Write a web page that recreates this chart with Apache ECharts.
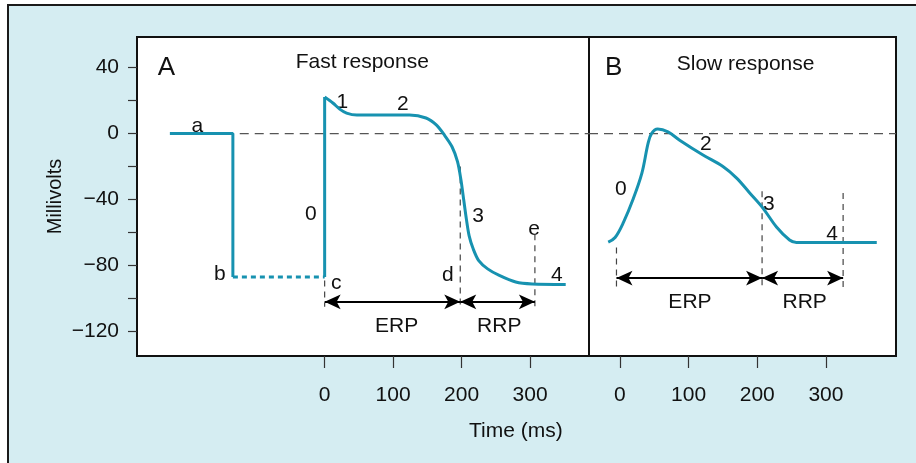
<!DOCTYPE html>
<html>
<head>
<meta charset="utf-8">
<script src="https://cdn.jsdelivr.net/npm/echarts@6/dist/echarts.min.js"></script>
<style>
  html, body { margin: 0; padding: 0; background: #fff; overflow: hidden; }
  #frame { position: absolute; left: 7px; top: 4px; width: 930px; height: 480px;
           border: 2px solid #1a1a1a; background: #d5edf2; }
  #chart { position: absolute; left: 0; top: 0; width: 916px; height: 463px; }
</style>
</head>
<body>
<div id="frame"></div>
<div id="chart"></div>
<script>
// time in ms, potential in mV
const fastResting = [[-226, 0], [-134, 0], [-134, -87]];
const fastDotted = [[-134, -87], [0, -87]];
const fastUpstroke = [[0, -87], [0, 22.1]];
const fastCurve = [
    [0, 22.1], [12, 18.5], [22, 14.8], [32, 12.4], [47, 11.2], [84, 11.2], [124, 11.2],
    [148, 9.4], [163, 5.2], [175, -1], [186, -8], [194, -17], [199, -28],
    [203, -40], [207, -52], [211, -62], [217, -70], [225, -77],
    [238, -82], [255, -86], [279, -90], [303, -91.2], [352, -91.5]
];
const slowCurve = [
    [-17, -65.8], [-7, -63], [5, -54], [19, -40], [32, -24], [41, -6], [46, 0],
    [55, 2.7], [70, 1], [87, -4], [121, -13], [150, -20], [170, -27], [189, -36],
    [208, -45], [228, -56.6], [247, -64.5], [257, -66], [374, -66]
];
const zeroLineA = [[-124, 0], [386, 0]];
const zeroLineB = [[-45, 0], [402, 0]];
// vertical dashed markers: [time, top, bottom]
const markersA = [[0, -89, -105], [198, -20, -105], [307, -61, -105]];
const markersB = [[-5, -69, -93.5], [207, -35, -93.5], [325, -36, -93.5]];
// arrows: [from, to, level]
const arrowsA = [[0, 198, -102], [198, 307, -102]];
const arrowsB = [[-5, 207, -87.6], [207, 325, -87.6]];
// annotations: [time, mV, text]
const notesA = [
    [-186, 4.5, 'a'], [-153, -85, 'b'], [17, -90.6, 'c'], [180, -86, 'd'],
    [-20, -49, '0'], [26, 19, '1'], [114, 18, '2'], [224, -50, '3'],
    [306, -58, 'e'], [339, -86, '4'], [105, -116.6, 'ERP'], [255, -116.6, 'RRP'],
    [55, 43, 'Fast response']
];
const notesB = [
    [1.5, -33.6, '0'], [125, -6.4, '2'], [217, -43, '3'], [309, -61, '4'],
    [102, -102, 'ERP'], [269, -102, 'RRP'], [183, 42, 'Slow response']
];
const panelTags = [[-231, 39.7, 'A', 0], [-9, 39.7, 'B', 1]];
const xTicks = [0, 100, 200, 300];
const yTicks = [-120, -100, -80, -60, -40, -20, 0, 20, 40];
const yLabels = [-120, -80, -40, 0, 40];

const teal = '#1792b0';
const ink = '#111';
const font = "'Liberation Sans', Arial, sans-serif";
const fs = 21;

const chart = echarts.init(document.getElementById('chart'), null, { renderer: 'canvas' });

const xAxisBase = (gridIndex, min, max) => ({
    type: 'value', gridIndex, min, max,
    axisLine: { show: false, onZero: false },
    splitLine: { show: false },
    axisTick: { show: true, length: 12, customValues: xTicks, lineStyle: { color: '#333', width: 1.2 } },
    axisLabel: { customValues: xTicks, margin: 29, fontSize: fs, color: ink, fontFamily: font }
});

const plotLine = (data, idx, extra) => Object.assign({
    type: 'line', data, xAxisIndex: idx, yAxisIndex: idx,
    symbol: 'none', silent: true,
    lineStyle: { color: teal, width: 3 }
}, extra || {});

const markerSeries = (list, idx) => list.map(m => ({
    type: 'line', xAxisIndex: idx, yAxisIndex: idx, symbol: 'none', silent: true,
    data: [[m[0], m[1]], [m[0], m[2]]],
    lineStyle: { color: '#444', width: 1.2, type: [6, 5] }
}));

const arrowSeries = (list, idx) => ({
    type: 'line', xAxisIndex: idx, yAxisIndex: idx, data: [], silent: true,
    markLine: {
        silent: true, animation: false,
        symbol: ['arrow', 'arrow'], symbolSize: [11, 16],
        label: { show: false },
        lineStyle: { color: '#000', width: 2, type: 'solid' },
        data: list.map(a => [{ coord: [a[0], a[2]] }, { coord: [a[1], a[2]] }])
    }
});

const noteSeries = (list, idx, size) => ({
    type: 'scatter', xAxisIndex: idx, yAxisIndex: idx, symbolSize: 0, silent: true,
    data: list,
    itemStyle: { opacity: 1 },
    label: {
        show: true, position: 'inside', formatter: p => p.data[2],
        fontSize: size, color: ink, fontFamily: font, opacity: 1
    }
});

chart.setOption({
    animation: false,
    grid: [
        { left: 137, top: 37, width: 452, height: 319, show: true, backgroundColor: '#fff', borderColor: '#111', borderWidth: 2 },
        { left: 589, top: 37, width: 307, height: 319, show: true, backgroundColor: '#fff', borderColor: '#111', borderWidth: 2 }
    ],
    xAxis: [xAxisBase(0, -274, 386), xAxisBase(1, -45, 402)],
    yAxis: [
        {
            type: 'value', gridIndex: 0, min: -134.8, max: 58.5,
            axisLine: { show: false, onZero: false }, splitLine: { show: false },
            axisTick: { show: true, length: 9, customValues: yTicks, lineStyle: { color: '#333', width: 1.2 } },
            axisLabel: {
                customValues: yLabels, margin: 18, fontSize: fs, color: ink, fontFamily: font,
                formatter: v => String(v).replace('-', '\u2212')
            },
            name: 'Millivolts', nameLocation: 'middle', nameRotate: 90, nameGap: 72,
            nameTextStyle: { fontSize: 20, color: ink, fontFamily: font }
        },
        { type: 'value', gridIndex: 1, min: -134.8, max: 58.5, show: false }
    ],
    graphic: [{
        type: 'text', left: 469, top: 421,
        style: { text: 'Time (ms)', fontSize: fs, fill: ink, fontFamily: font }
    }],
    series: [
        plotLine(zeroLineA, 0, { lineStyle: { color: '#555', width: 1.3, type: [9, 6] } }),
        plotLine(zeroLineB, 1, { lineStyle: { color: '#555', width: 1.3, type: [9, 6] } }),
        ...markerSeries(markersA, 0),
        ...markerSeries(markersB, 1),
        plotLine(fastResting, 0),
        plotLine(fastDotted, 0, { lineStyle: { color: teal, width: 3, type: [5, 4] } }),
        plotLine(fastUpstroke, 0),
        plotLine(fastCurve, 0, { smooth: 0.3 }),
        plotLine(slowCurve, 1, { smooth: 0.35 }),
        arrowSeries(arrowsA, 0),
        arrowSeries(arrowsB, 1),
        noteSeries(notesA, 0, fs),
        noteSeries(notesB, 1, fs),
        noteSeries(panelTags.filter(t => t[3] === 0), 0, 26),
        noteSeries(panelTags.filter(t => t[3] === 1), 1, 26)
    ]
});
</script>
</body>
</html>
